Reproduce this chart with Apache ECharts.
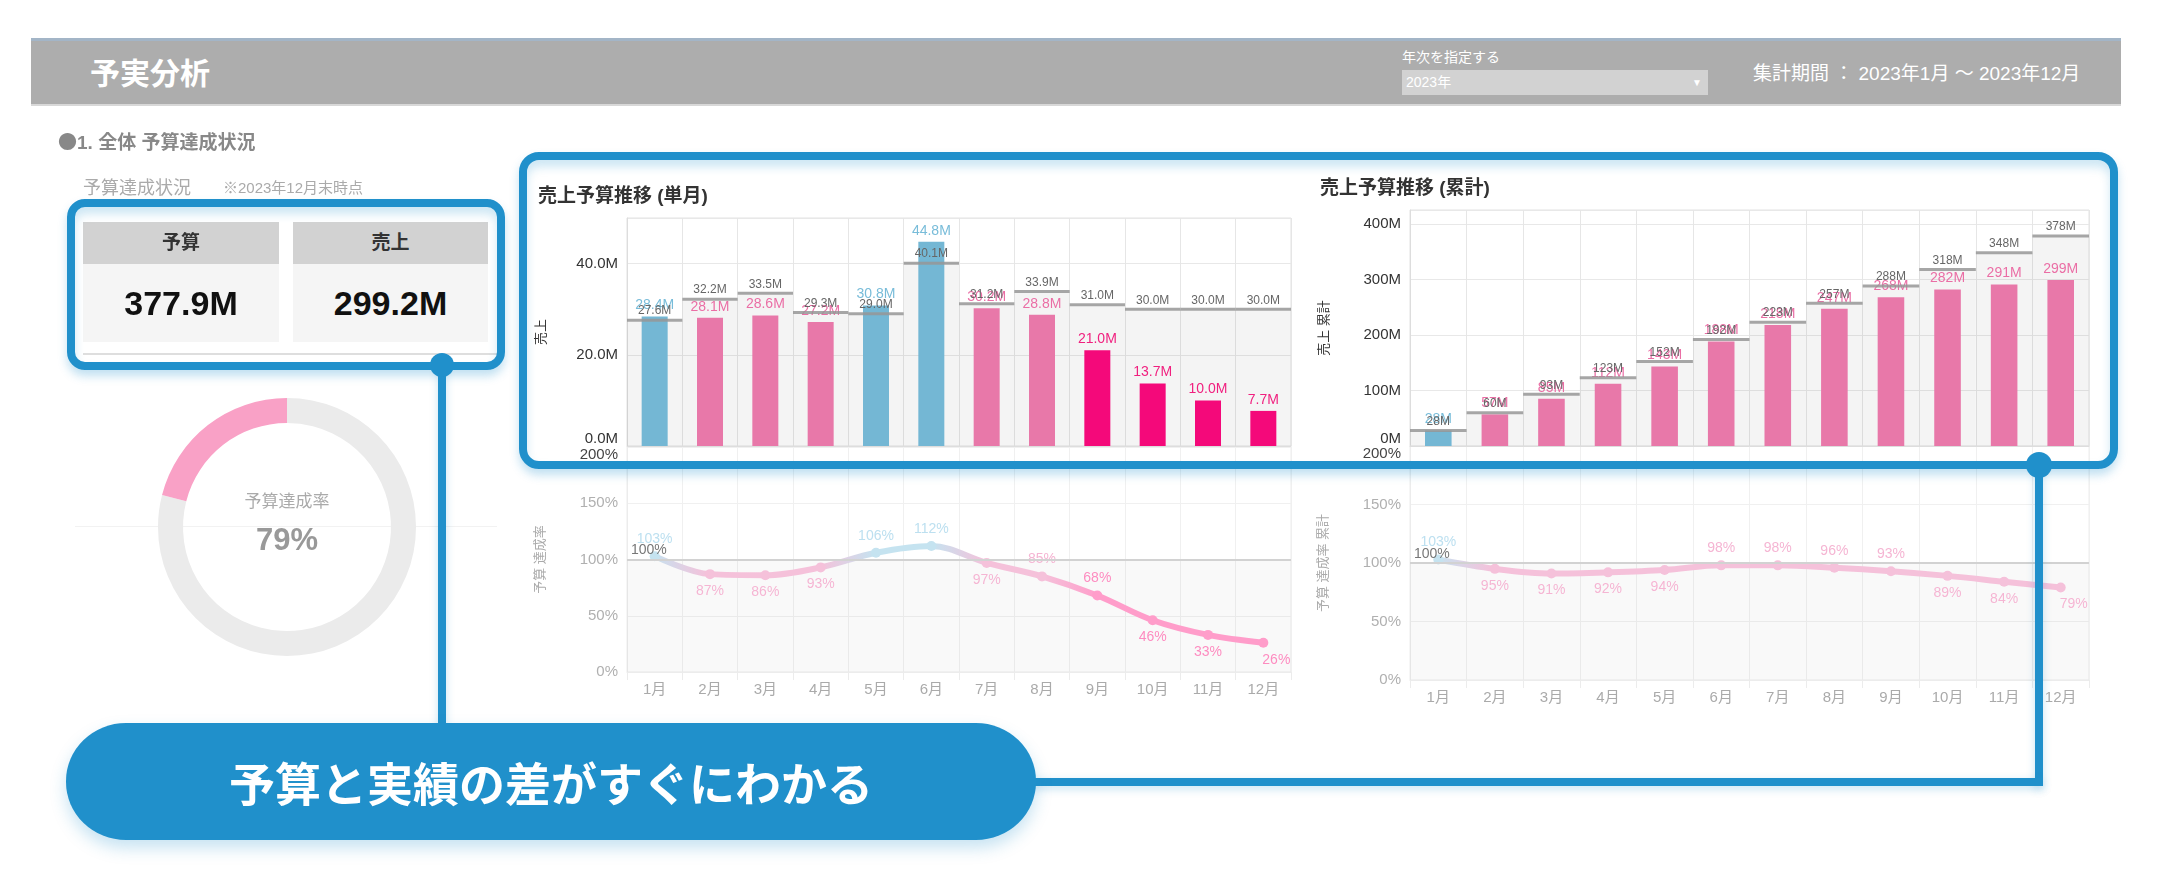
<!DOCTYPE html>
<html><head><meta charset="utf-8">
<script src="https://cdn.jsdelivr.net/npm/echarts@6/dist/echarts.min.js"></script>
<style>
html,body{margin:0;padding:0;background:#fff;width:2160px;height:892px;overflow:hidden;font-family:"Liberation Sans","Noto Sans CJK JP",sans-serif;}
#chart{position:absolute;left:0;top:0;width:2160px;height:892px;z-index:1;}
.abs{position:absolute;white-space:nowrap;}
.blue{background:#2090cb;}
.box{position:absolute;border:8px solid #2090cb;box-sizing:border-box;border-radius:20px;
 box-shadow:0 6px 10px rgba(32,144,203,0.28), inset 0 7px 10px rgba(32,144,203,0.22);z-index:3;}
.dot{position:absolute;border-radius:50%;background:#2090cb;z-index:4;}
.vline{position:absolute;background:#2090cb;z-index:3;box-shadow:0 3px 8px rgba(32,144,203,0.25);}
</style></head><body>
<div id="chart"></div>

<!-- header -->
<div class="abs" style="left:31px;top:38px;width:2090px;height:68px;background:#adadad;border-top:3px solid #a3b5c7;border-bottom:2px solid #d8d8d8;box-sizing:border-box;z-index:2;"></div>
<div class="abs" style="left:90px;top:56px;height:36px;line-height:36px;font-size:30px;font-weight:bold;color:#fff;z-index:2;">予実分析</div>
<div class="abs" style="left:1402px;top:48px;height:18px;line-height:18px;font-size:14px;color:#fff;z-index:2;">年次を指定する</div>
<div class="abs" style="left:1402px;top:70px;width:306px;height:25px;background:#d2d2d2;z-index:2;">
  <span class="abs" style="left:4px;top:0;line-height:25px;font-size:14px;color:#fff;">2023年</span>
  <span class="abs" style="right:6px;top:0;line-height:25px;font-size:10px;color:#fff;">▼</span>
</div>
<div class="abs" style="left:1753px;top:62px;height:24px;line-height:24px;font-size:19px;color:#fff;z-index:2;">集計期間 ： 2023年1月 ～ 2023年12月</div>

<!-- left panel -->
<div class="abs" style="left:58px;top:129px;height:24px;line-height:24px;font-size:19px;font-weight:bold;color:#888;z-index:2;"><span style="font-family:'Noto Sans CJK JP',sans-serif;font-weight:normal;">●</span>1. 全体 予算達成状況</div>
<div class="abs" style="left:83px;top:176px;height:24px;line-height:24px;font-size:18px;color:#aaa;z-index:2;">予算達成状況</div>
<div class="abs" style="left:223px;top:177px;height:22px;line-height:22px;font-size:15px;color:#aaa;z-index:2;">※2023年12月末時点</div>

<div class="abs" style="left:83px;top:222px;width:196px;height:42px;line-height:42px;background:#d2d2d2;text-align:center;font-size:19px;font-weight:bold;color:#333;z-index:2;">予算</div>
<div class="abs" id="kpiBudget" style="left:83px;top:264px;width:196px;height:78px;line-height:78px;background:#f5f5f5;text-align:center;font-size:34px;font-weight:bold;color:#111;z-index:2;"></div>
<div class="abs" style="left:293px;top:222px;width:195px;height:42px;line-height:42px;background:#d2d2d2;text-align:center;font-size:19px;font-weight:bold;color:#333;z-index:2;">売上</div>
<div class="abs" id="kpiActual" style="left:293px;top:264px;width:195px;height:78px;line-height:78px;background:#f5f5f5;text-align:center;font-size:34px;font-weight:bold;color:#111;z-index:2;"></div>
<div class="abs" style="left:83px;top:353px;width:414px;height:2px;background:#dedede;z-index:2;"></div>
<div class="abs" style="left:75px;top:526px;width:422px;height:1px;background:#f2f2f2;z-index:0;"></div>
<div class="abs" style="left:187px;top:490px;width:200px;height:24px;line-height:24px;text-align:center;font-size:17px;color:#aaa;z-index:2;">予算達成率</div>
<div class="abs" id="kpiRate" style="left:187px;top:520px;width:200px;height:40px;line-height:40px;text-align:center;font-size:31px;font-weight:bold;color:#999;z-index:2;"></div>

<!-- highlight boxes and connectors -->
<div class="box" style="left:67px;top:199px;width:438px;height:171px;border-radius:18px;"></div>
<div class="box" style="left:519px;top:152px;width:1599px;height:317px;"></div>
<div class="vline" style="left:438px;top:365px;width:8px;height:362px;"></div>
<div class="dot" style="left:430px;top:353px;width:24px;height:24px;"></div>
<div class="vline" style="left:2035px;top:465px;width:8px;height:321px;"></div>
<div class="vline" style="left:1030px;top:778px;width:1013px;height:8px;"></div>
<div class="dot" style="left:2026px;top:452px;width:26px;height:26px;"></div>
<div class="abs blue" style="left:66px;top:723px;width:970px;height:117px;border-radius:60px/58px;z-index:5;box-shadow:0 8px 16px rgba(32,144,203,0.25);text-align:center;line-height:117px;font-size:46px;font-weight:bold;color:#fff;font-family:'Noto Sans CJK JP',sans-serif;">予算と実績の差がすぐにわかる</div>

<script>
// ---------------- data ----------------
const months = ['1月','2月','3月','4月','5月','6月','7月','8月','9月','10月','11月','12月'];
const monthlyActual = [28.4, 28.1, 28.6, 27.2, 30.8, 44.8, 30.2, 28.8, 21.0, 13.7, 10.0, 7.7];
const monthlyBudget = [27.6, 32.2, 33.5, 29.3, 29.0, 40.1, 31.2, 33.9, 31.0, 30.0, 30.0, 30.0];
const monthlyRate   = [103, 87, 86, 93, 106, 112, 97, 85, 68, 46, 33, 26];
const cumActual = [28, 57, 85, 112, 143, 188, 218, 247, 268, 282, 291, 299];
const cumBudget = [28, 60, 93, 123, 152, 192, 223, 257, 288, 318, 348, 378];
const cumRate   = [103, 95, 91, 92, 94, 98, 98, 96, 93, 89, 84, 79];
const targetRate = 100;
const kpiBudget = 377.9;
const kpiActual = 299.2;
const kpiRate = 79;
const kpiRest = 21;

// ---------------- styles ----------------
const FONT = '"Liberation Sans","Noto Sans CJK JP",sans-serif';
const monthlyLabelPos = ['top','bottom','bottom','bottom','top','top','bottom','top','top','bottom','bottom','bottom'];
const cumLabelPos     = ['top','bottom','bottom','bottom','bottom','top','top','top','top','bottom','bottom','bottom'];

function status(r){ return r >= 100 ? 'over' : (r >= 75 ? 'under' : 'low'); }
const BAR = {over:'#74b7d4', under:'#e878a9', low:'#f4097a'};
const BARLBL = {over:'#78bcd9', under:'#ea6ea5', low:'#f0207f'};
const LINE = {over:'#c5e3f0', under:'#f5c1da', low:'#ff9dca'};
const LINELBL = {over:'#bde0f0', under:'#f5b5d3', low:'#fd8cc0'};

document.getElementById('kpiBudget').textContent = kpiBudget.toFixed(1) + 'M';
document.getElementById('kpiActual').textContent = kpiActual.toFixed(1) + 'M';
document.getElementById('kpiRate').textContent = kpiRate + '%';

const chart = echarts.init(document.getElementById('chart'), null, {renderer:'canvas'});

function budgetBg(xi, data){
  return {
    type:'custom', xAxisIndex:xi, yAxisIndex:xi, z:1, silent:true,
    data: data.map((v,i)=>[i,v]),
    renderItem:(params, api)=>{
      const i = api.value(0), v = api.value(1);
      const top = api.coord([i, v]), base = api.coord([i, 0]);
      const w = api.size([1, 0])[0];
      return {type:'rect', shape:{x:top[0]-w/2, y:top[1], width:w, height:base[1]-top[1]},
              style:{fill:'rgba(0,0,0,0.045)'}};
    }
  };
}
function budgetLine(xi, data, fmt){
  return {
    type:'custom', xAxisIndex:xi, yAxisIndex:xi, z:4, silent:true,
    data: data.map((v,i)=>[i,v]),
    renderItem:(params, api)=>{
      const i = api.value(0), v = api.value(1);
      const top = api.coord([i, v]);
      const w = api.size([1, 0])[0];
      return {type:'group', children:[
        {type:'line', shape:{x1:top[0]-w/2, y1:top[1], x2:top[0]+w/2, y2:top[1]},
         style:{stroke:'rgba(150,150,150,0.85)', lineWidth:3}},
        {type:'text', style:{text:fmt(v), x:top[0], y:top[1]-3, fill:'#666', fontSize:12, fontFamily:FONT,
          align:'center', verticalAlign:'bottom', textAlign:'center', textVerticalAlign:'bottom'}}
      ]};
    }
  };
}
function actualBars(xi, data, rates, fmt){
  return {
    type:'bar', xAxisIndex:xi, yAxisIndex:xi, z:2, barWidth:'47%', silent:true,
    data: data.map((v,i)=>({value:v, itemStyle:{color:BAR[status(rates[i])]}, label:{color:BARLBL[status(rates[i])]}})),
    label:{show:true, position:'top', distance:4, fontSize:14, fontFamily:FONT, formatter:p=>fmt(p.value)}
  };
}
function rateLine(xi, data, pos){
  const n = data.length;
  const stops = data.map((v,i)=>({offset:i/(n-1), color:LINE[status(v)]}));
  return {
    type:'line', xAxisIndex:xi, yAxisIndex:xi, z:3, silent:true,
    smooth:0.35, symbol:'circle', symbolSize:10,
    lineStyle:{width:6, color:new echarts.graphic.LinearGradient(0,0,1,0,stops)},
    data: data.map((v,i)=>({value:v, itemStyle:{color:LINE[status(v)]},
      label:{position:pos[i], color:LINELBL[status(v)], offset: i===n-1 ? [13,0] : [0,0]}})),
    label:{show:true, fontSize:14, fontFamily:FONT, distance:5, formatter:p=>p.value+'%'},
    markLine:{silent:true, symbol:'none', data:[{yAxis:targetRate}],
      lineStyle:{color:'#d2d2d2', width:2, type:'solid'},
      label:{position:'insideStartTop', formatter:p=>p.value+'%', color:'#777', fontSize:14, fontFamily:FONT, distance:[4,2]}},
    markArea:{silent:true, itemStyle:{color:'rgba(0,0,0,0.025)'}, data:[[{yAxis:0},{yAxis:targetRate}]]}
  };
}

function catAxis(gi, showLabel){
  return {
    type:'category', gridIndex:gi, data:months, boundaryGap:true,
    axisLabel:{show:showLabel, color:'#aaa', fontSize:15, margin:10, fontFamily:FONT},
    axisTick:{show:showLabel, length:8, lineStyle:{color:'#ececec'}},
    axisLine:{show:true, lineStyle:{color: showLabel ? '#ececec' : '#dddddd'}},
    splitLine:{show:true, lineStyle:{color: showLabel ? '#f0f0f0' : '#e6e6e6'}}
  };
}
function moneyAxis(gi, max, interval, fmt, name){
  return {
    type:'value', gridIndex:gi, min:0, max:max, interval:interval,
    name:name, nameLocation:'middle', nameGap:79, nameRotate:90,
    nameTextStyle:{color:'#333', fontSize:13, fontFamily:FONT},
    axisLabel:{formatter:fmt, color:'#333', fontSize:15, margin:9, fontFamily:FONT,
      showMaxLabel:false, verticalAlignMinLabel:'bottom'},
    axisLine:{show:true, lineStyle:{color:'#dddddd'}}, axisTick:{show:false},
    splitLine:{lineStyle:{color:'#e8e8e8'}}
  };
}
function rateAxis(gi, name){
  return {
    type:'value', gridIndex:gi, min:0, max:200, interval:50,
    name:name, nameLocation:'middle', nameGap:80, nameRotate:90,
    nameTextStyle:{color:'#aaa', fontSize:13, fontFamily:FONT},
    axisLabel:{formatter:v=>v+'%', fontSize:15, margin:9, fontFamily:FONT,
      color:(v)=> (Number(v)===200 ? '#444' : '#b0b0b0'), verticalAlignMaxLabel:'top'},
    axisLine:{show:true, lineStyle:{color:'#ececec'}}, axisTick:{show:false},
    splitLine:{lineStyle:{color:'#f0f0f0'}}
  };
}

const fmt1 = v => Number(v).toFixed(1) + 'M';
const fmt0 = v => Math.round(v) + 'M';

const option = {
  animation:false,
  textStyle:{fontFamily:FONT},
  title:[
    {text:'売上予算推移 (単月)', left:533, top:182, textStyle:{fontSize:19, fontWeight:'bold', color:'#333', fontFamily:FONT}},
    {text:'売上予算推移 (累計)', left:1315, top:174, textStyle:{fontSize:19, fontWeight:'bold', color:'#333', fontFamily:FONT}}
  ],
  grid:[
    {left:627, top:218, width:664, height:228, show:true, borderColor:'#e2e2e2', borderWidth:1, containLabel:false},
    {left:627, top:447, width:664, height:225, show:true, borderColor:'#ececec', borderWidth:1, containLabel:false},
    {left:1410, top:210, width:679, height:236, show:true, borderColor:'#e2e2e2', borderWidth:1, containLabel:false},
    {left:1410, top:446, width:679, height:234, show:true, borderColor:'#ececec', borderWidth:1, containLabel:false}
  ],
  xAxis:[catAxis(0,false), catAxis(1,true), catAxis(2,false), catAxis(3,true)],
  yAxis:[
    moneyAxis(0, 50, 20, fmt1, '売上'),
    rateAxis(1, '予算 達成率'),
    moneyAxis(2, 425, 100, fmt0, '売上 累計'),
    rateAxis(3, '予算 達成率 累計')
  ],
  series:[
    budgetBg(0, monthlyBudget),
    actualBars(0, monthlyActual, monthlyRate, fmt1),
    budgetLine(0, monthlyBudget, fmt1),
    rateLine(1, monthlyRate, monthlyLabelPos),
    budgetBg(2, cumBudget),
    actualBars(2, cumActual, cumRate, fmt0),
    budgetLine(2, cumBudget, fmt0),
    rateLine(3, cumRate, cumLabelPos),
    {
      type:'pie', center:[287,527], radius:[104,129], startAngle:90, clockwise:true,
      silent:true, label:{show:false}, labelLine:{show:false}, emphasis:{disabled:true},
      data:[
        {value:kpiRate, itemStyle:{color:'#ebebeb'}},
        {value:kpiRest, itemStyle:{color:'#f9a1c6'}}
      ]
    }
  ]
};
chart.setOption(option);
</script>
</body></html>
